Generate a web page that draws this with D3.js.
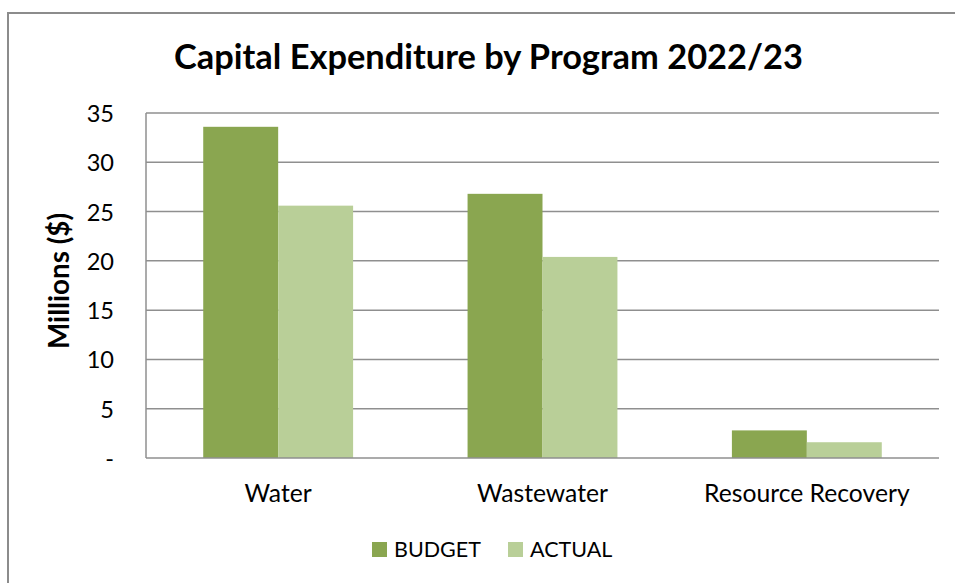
<!DOCTYPE html>
<html><head><meta charset="utf-8">
<script src="https://cdn.jsdelivr.net/npm/d3@7"></script>
<style>body{margin:0;background:#fff;} svg{display:block;}</style>
</head><body>
<svg id="c" width="955" height="583"></svg>
<script>
const categories = ["Water", "Wastewater", "Resource Recovery"];
const seriesNames = ["BUDGET", "ACTUAL"];
const budget = [33.6, 26.8, 2.8];
const actual = [25.6, 20.4, 1.6];
const yTicks = [0, 5, 10, 15, 20, 25, 30, 35];
const yTickLabels = ["-", "5", "10", "15", "20", "25", "30", "35"];
const colors = ["#8aa650", "#b9cf98"];

const svg = d3.select("#c");
const font = "Lato, 'Open Sans', sans-serif";
const pLeft = 146, pRight = 939, pTop = 113, pBottom = 458;

// outer frame
svg.append("path").attr("d", `M8,583 V13 H955`).attr("fill", "none")
  .attr("stroke", "#8c8c8c").attr("stroke-width", 2);

const x0 = d3.scaleBand().domain(categories).range([pLeft, pRight]).paddingInner(0.433).paddingOuter(0.2165);
const x1 = d3.scaleBand().domain(seriesNames).range([0, x0.bandwidth()]);
const y = d3.scaleLinear().domain([0, 35]).range([pBottom, pTop]);

// gridlines
svg.append("g").selectAll("line").data(yTicks.filter(d => d > 0)).join("line")
  .attr("x1", pLeft).attr("x2", pRight).attr("y1", d => y(d)).attr("y2", d => y(d))
  .attr("stroke", "#8f8f8f").attr("stroke-width", 1.5);

// bars
const data = categories.map((c, i) => ({c, vals: [budget[i], actual[i]]}));
const g = svg.append("g").selectAll("g").data(data).join("g")
  .attr("transform", d => `translate(${x0(d.c)},0)`);
g.selectAll("rect").data(d => d.vals.map((v, j) => ({v, s: seriesNames[j], j}))).join("rect")
  .attr("x", d => x1(d.s)).attr("width", x1.bandwidth())
  .attr("y", d => y(d.v)).attr("height", d => y(0) - y(d.v))
  .attr("fill", d => colors[d.j]);

// y axis
const yAxis = d3.axisLeft(y).tickValues(yTicks).tickFormat((d, i) => yTickLabels[i]).tickSize(0).tickPadding(0);
const ya = svg.append("g").attr("transform", `translate(${pLeft},0)`).call(yAxis);
ya.select(".domain").remove();
ya.selectAll("text").attr("x", -32).attr("dy", "0.36em").attr("font-family", font)
  .attr("font-size", 23.6).attr("fill", "#000").attr("text-anchor", "end");
svg.append("line").attr("x1", pLeft).attr("x2", pLeft).attr("y1", pTop).attr("y2", pBottom)
  .attr("stroke", "#8f8f8f").attr("stroke-width", 1.5);

// x axis
const xAxis = d3.axisBottom(x0).tickSize(0).tickPadding(0);
const xa = svg.append("g").attr("transform", `translate(0,${pBottom})`).call(xAxis);
xa.select(".domain").remove();
xa.selectAll("text").attr("y", 44).attr("dy", 0).attr("font-family", font)
  .attr("font-size", 24.7).attr("fill", "#000");
svg.append("line").attr("x1", pLeft).attr("x2", pRight).attr("y1", pBottom).attr("y2", pBottom)
  .attr("stroke", "#8f8f8f").attr("stroke-width", 1.5);

// title
svg.append("text").attr("x", 488.5).attr("y", 69).attr("text-anchor", "middle")
  .attr("font-family", font).attr("font-weight", "bold").attr("font-size", 34.4)
  .text("Capital Expenditure by Program 2022/23");

// y label
svg.append("text").attr("transform", `translate(69,281) rotate(-90)`)
  .attr("text-anchor", "middle").attr("font-family", font).attr("font-weight", "bold")
  .attr("font-size", 27.8).text("Millions ($)");

// legend
const legX = [372, 508];
const lg = svg.append("g").selectAll("g").data(seriesNames).join("g")
  .attr("transform", (d, i) => `translate(${legX[i]},542)`);
lg.append("rect").attr("width", 15).attr("height", 15).attr("fill", (d, i) => colors[i]);
lg.append("text").attr("x", 22).attr("y", 15).attr("font-family", font).attr("font-size", 21.5).text(d => d);
</script>
</body></html>
